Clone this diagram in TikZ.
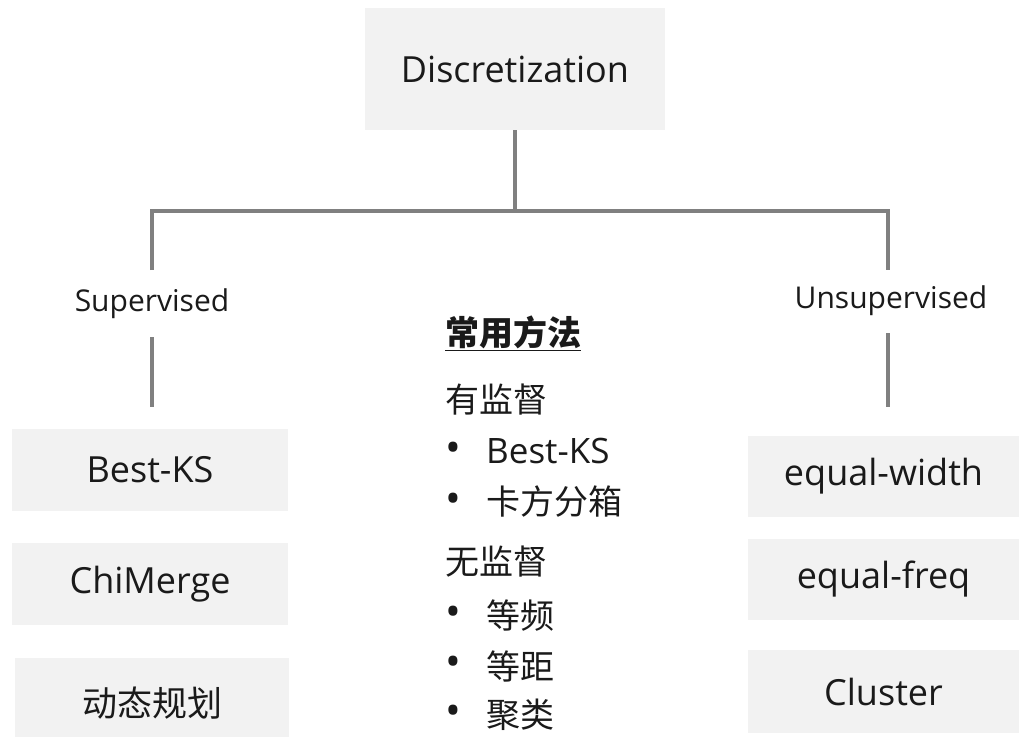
\documentclass[tikz,border=0pt]{standalone}
\usepackage{fontspec}
\setmainfont{Open Sans}
\newfontfamily\cjk{Noto Sans CJK SC}
\definecolor{boxgray}{HTML}{F2F2F2}
\definecolor{linegray}{HTML}{808080}
\definecolor{txt}{HTML}{1A1A1A}
\tikzset{
  box/.style={rectangle, fill=boxgray, inner sep=0pt, text=txt},
  bigfont/.style={font=\fontsize{36}{42}\selectfont},
  cjkfont/.style={font=\fontsize{35}{42}\selectfont\cjk},
  midfont/.style={font=\fontsize{30}{36}\selectfont},
  conn/.style={draw=linegray, line width=3.2pt},
  listtxt/.style={anchor=west, inner sep=0pt, text=txt, font=\fontsize{35}{42}\selectfont},
  listcjk/.style={anchor=west, inner sep=0pt, text=txt, font=\fontsize{34}{42}\selectfont\cjk},
  bul/.style={anchor=center, inner sep=0pt, text=txt, font=\fontsize{42}{44}\selectfont},
}
\begin{document}
\begin{tikzpicture}[x=1pt,y=-1pt]
\useasboundingbox (0,0) rectangle (1019,736);
% root
\node[box, bigfont, minimum width=300, minimum height=122] (root) at (515,69) {Discretization};
% junctions
\coordinate (jt) at (515,211);
\coordinate (jl) at (152,211);
\coordinate (jr) at (888,211);
\coordinate (ls) at (152,270);
\coordinate (rs) at (888,270);
\coordinate (la) at (152,337);
\coordinate (lb) at (152,407);
\coordinate (ra) at (888,333);
\coordinate (rb) at (888,407);
\draw[conn] (root.south) -- (jt);
\draw[conn] (ls) -- (jl) -- (jr) -- (rs);
% labels
\node[midfont, text=txt, inner sep=0pt] (sup) at (152,304) {Supervised};
\node[midfont, text=txt, inner sep=0pt] (unsup) at (891,301) {Unsupervised};
\draw[conn] (la) -- (lb);
\draw[conn] (ra) -- (rb);
% left boxes
\node[box, bigfont, minimum width=276, minimum height=82] (bks) at (150,470) {Best-KS};
\node[box, bigfont, minimum width=276, minimum height=82] (chi) at (150,584) {ChiMerge};
\node[box, cjkfont, minimum width=274, minimum height=90] (dp) at (152,703) {动态规划};
% right boxes
\node[box, bigfont, minimum width=272, minimum height=81] (ew) at (883.5,476.5) {equal-width};
\node[box, bigfont, minimum width=272, minimum height=81] (ef) at (883.5,579.5) {equal-freq};
\node[box, bigfont, minimum width=272, minimum height=83] (cl) at (883.5,691.5) {Cluster};
% middle list
\node[listcjk] (t0) at (445,333) {\bfseries\underline{常用方法}};
\node[listcjk] (t1) at (445,400) {有监督};
\node[bul] (b1) at (453,452) {•};
\node[listtxt] (t2) at (486,451) {Best-KS};
\node[bul] (b2) at (453,503) {•};
\node[listcjk] (t3) at (486,502) {卡方分箱};
\node[listcjk] (t4) at (445,562) {无监督};
\node[bul] (b3) at (453,616) {•};
\node[listcjk] (t5) at (486,616) {等频};
\node[bul] (b4) at (453,666) {•};
\node[listcjk] (t6) at (486,666) {等距};
\node[bul] (b5) at (453,715) {•};
\node[listcjk] (t7) at (486,715) {聚类};
\end{tikzpicture}
\end{document}
